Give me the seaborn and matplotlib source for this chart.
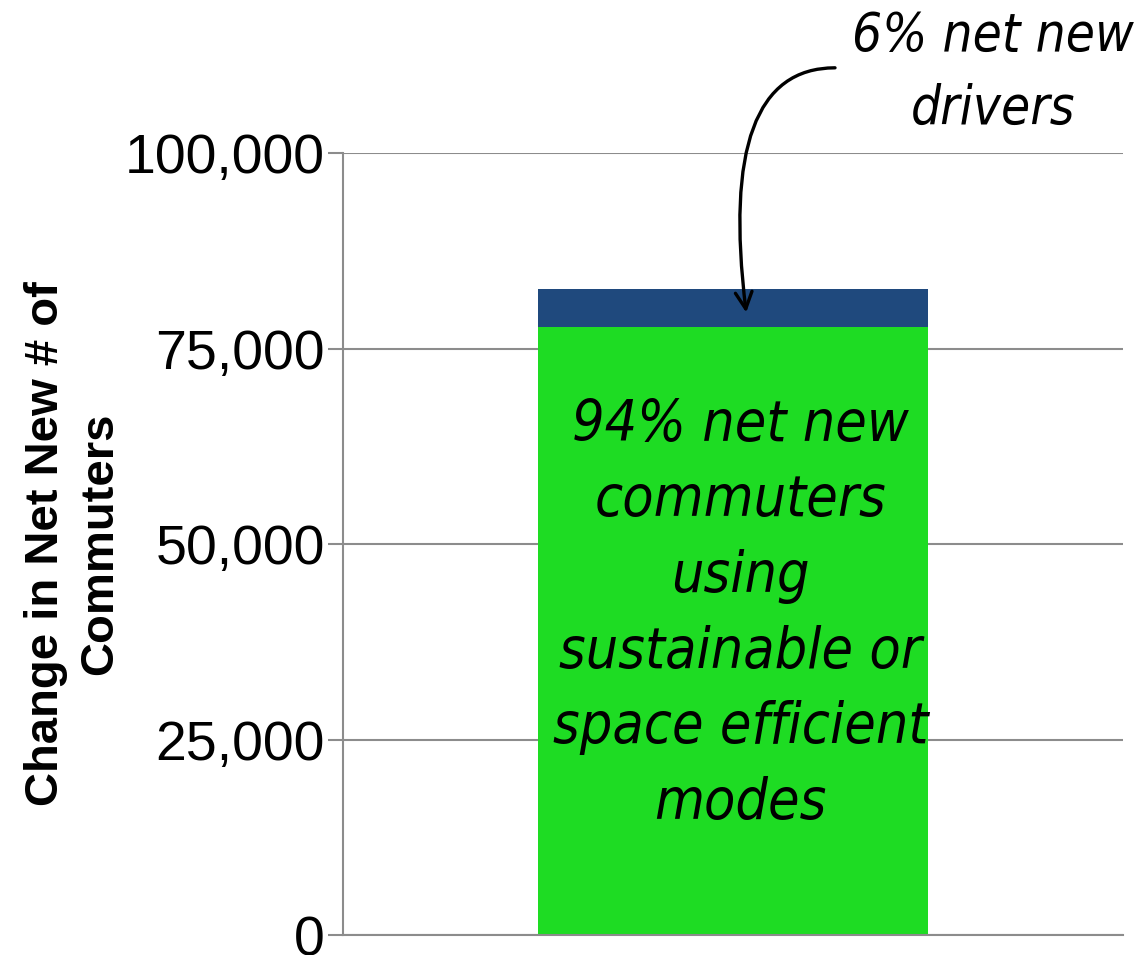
import matplotlib
matplotlib.use('Agg')
import matplotlib.pyplot as plt
import seaborn as sns

# values
category = ['Net New Commuters']
sustainable = [77700]
drivers = [4900]
total = [s + d for s, d in zip(sustainable, drivers)]
yticks = [0, 25000, 50000, 75000, 100000]
ytick_labels = ['0', '25,000', '50,000', '75,000', '100,000']

sns.set_style('white')
plt.rcParams['font.family'] = ['Liberation Sans', 'DejaVu Sans']
plt.rcParams['text.color'] = 'black'
plt.rcParams['axes.labelcolor'] = 'black'
plt.rcParams['ytick.color'] = 'black'

fig = plt.figure(figsize=(11.47, 9.55), dpi=100)
ax = fig.add_axes([0.299, 0.0209, 0.68, 0.8189])

# stacked bar: draw total (drivers on top) then the green part over it
sns.barplot(x=category, y=total, color='#1F497D', width=0.5, saturation=1, linewidth=0, ax=ax)
sns.barplot(x=category, y=sustainable, color='#1EDC23', width=0.5, saturation=1, linewidth=0, ax=ax)

ax.set_xlim(-0.5, 0.5)
ax.set_ylim(0, 100000)
ax.set_yticks(yticks)
ax.set_yticklabels(ytick_labels, fontsize=40)
ax.set_xticks([])
ax.yaxis.grid(True, color='#8c8c8c', linewidth=1.5)
ax.set_axisbelow(True)
ax.tick_params(axis='y', which='major', left=True, length=11, width=1.5, color='#8c8c8c',
               labelcolor='black', pad=2)
for side in ['top', 'right']:
    ax.spines[side].set_visible(False)
for side in ['left', 'bottom']:
    ax.spines[side].set_color('#8c8c8c')
    ax.spines[side].set_linewidth(1.5)

ax.set_ylabel('Change in Net New # of\nCommuters', fontsize=34, fontweight='bold', labelpad=2,
              linespacing=1.3)

ax.text(0.01, 41000, '94% net new\ncommuters\nusing\nsustainable or\nspace efficient\nmodes',
        ha='center', va='center', fontsize=41, style='italic', family='DejaVu Sans',
        stretch='condensed', linespacing=1.48)

ax.annotate('', xy=(0.017, 79600), xycoords='data',
            xytext=(0.728, 0.929), textcoords='figure fraction',
            arrowprops=dict(arrowstyle='->', color='black', lw=2.4, mutation_scale=30,
                            shrinkA=0, shrinkB=0,
                            connectionstyle='angle3,angleA=0,angleB=97'))
fig.text(0.866, 0.924, '6% net new\ndrivers', ha='center', va='center', fontsize=38,
         style='italic', family='DejaVu Sans', stretch='condensed', linespacing=1.5)

plt.savefig('out.png', dpi=100)
